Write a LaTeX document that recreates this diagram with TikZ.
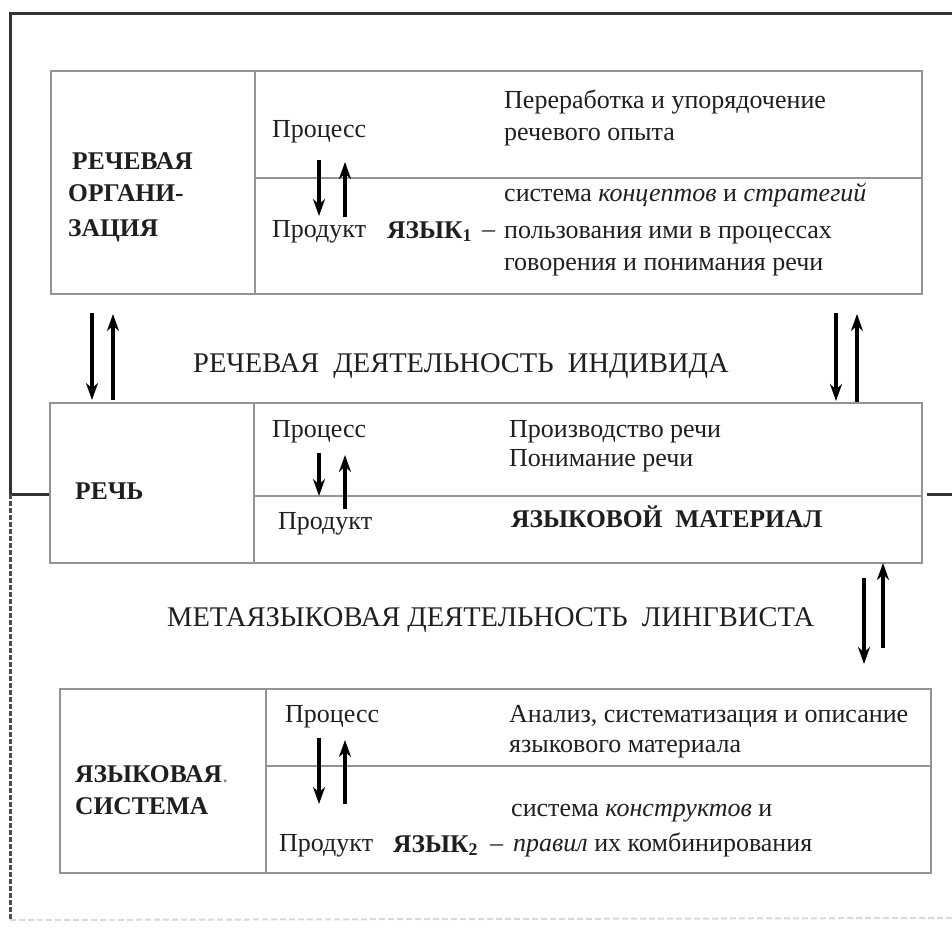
\documentclass[tikz,border=0pt]{standalone}
\usepackage{fontspec}
\setmainfont{Liberation Serif}
\usetikzlibrary{arrows.meta}
\begin{document}
\begin{tikzpicture}[x=1pt,y=-1pt,
  txt/.style={anchor=base west, inner sep=0pt, font=\fontsize{26}{30}\selectfont, text=black!88},
  btxt/.style={txt, font=\fontsize{25.5}{30}\selectfont\bfseries},
  lbl/.style={txt, font=\fontsize{28.5}{32}\selectfont},
  boxln/.style={draw=black!42, line width=2pt},
  panel/.style={boxln, rectangle, anchor=north west, inner sep=0pt},
  frameln/.style={draw=black!80, line width=3pt},
  arr/.style={draw=black, line width=3.4pt, -{Stealth[length=17pt,width=12pt]}}
]
\useasboundingbox[fill=white] (0,0) rectangle (952,928);

% ---- boxes
\node[panel, minimum width=871pt, minimum height=223pt] (b1) at (50,70) {};
\node[panel, minimum width=872pt, minimum height=160pt] (b2) at (49,402) {};
\node[panel, minimum width=871pt, minimum height=184pt] (b3) at (59,688) {};
\draw[boxln] (255,70) -- (255,293);
\draw[boxln] (255,178) -- (921,178);
\draw[boxln] (254,402) -- (254,562);
\draw[boxln] (254,496) -- (921,496);
\draw[boxln] (266,688) -- (266,872);
\draw[boxln] (266,766) -- (930,766);

% ---- outer frame
\coordinate (ftl) at (10,14);
\coordinate (ftr) at (952,14);
\coordinate (fml) at (10,494);
\coordinate (fmr) at (952,494);
\coordinate (fbl) at (10,920);
\coordinate (fbr) at (952,918);
\draw[frameln] (ftr) -- (ftl) -- (fml) -- (b2.west |- fml);
\draw[frameln] (b2.east |- fmr) ++(4,0) -- (fmr);
\draw[draw=black!70, line width=3pt, dash pattern=on 5pt off 2pt] (fml) -- (fbl);
\draw[draw=black!15, line width=2pt, dash pattern=on 6pt off 3pt] (fbl) -- (fbr);

% ---- box 1
\node[btxt] (t1a) at (72,170) {РЕЧЕВАЯ};
\node[btxt] (t1b) at (68,201) {ОРГАНИ-};
\node[btxt] (t1c) at (68,236) {ЗАЦИЯ};
\node[txt] (p1) at (272,138) {Процесс};
\node[txt] (r1) at (272,237) {Продукт};
\node[btxt] (y1) at (387,238) {ЯЗЫК\textsubscript{1}};
\node[txt] (d1) at (482,237) {–};
\node[txt] (s1a) at (504,109) {Переработка и упорядочение};
\node[txt] (s1b) at (504,141) {речевого опыта};
\node[txt] (s1c) at (504,201) {система \textit{концептов} и \textit{стратегий}};
\node[txt] (s1d) at (504,238) {пользования ими в процессах};
\node[txt] (s1e) at (504,270) {говорения и понимания речи};

% ---- label 1
\node[lbl] (L1) at (193,372) {РЕЧЕВАЯ\ \ ДЕЯТЕЛЬНОСТЬ\ \ ИНДИВИДА};

% ---- box 2
\node[btxt] (t2) at (75,499) {РЕЧЬ};
\node[txt] (p2) at (272,437) {Процесс};
\node[txt] (r2) at (278,529) {Продукт};
\node[txt] (s2a) at (509,437) {Производство речи};
\node[txt] (s2b) at (509,466) {Понимание речи};
\node[btxt] (s2c) at (511,527) {ЯЗЫКОВОЙ\ \ МАТЕРИАЛ};

% ---- label 2
\node[lbl] (L2) at (167,626) {МЕТАЯЗЫКОВАЯ ДЕЯТЕЛЬНОСТЬ\ \ ЛИНГВИСТА};

% ---- box 3
\node[btxt] (t3a) at (75,782) {ЯЗЫКОВАЯ\textmd{\color{black!45}.}};
\node[btxt] (t3b) at (75,814) {СИСТЕМА};
\node[txt] (p3) at (285,722) {Процесс};
\node[txt] (r3) at (279,851) {Продукт};
\node[btxt] (y3) at (393,852) {ЯЗЫК\textsubscript{2}};
\node[txt] (d3) at (490,851) {–};
\node[txt] (s3a) at (509,722) {Анализ, систематизация и описание};
\node[txt] (s3b) at (509,752) {языкового материала};
\node[txt] (s3c) at (511,816) {система \textit{конструктов} и};
\node[txt] (s3d) at (513,851) {\textit{правил} их комбинирования};

% ---- arrow end points
\coordinate (a1s) at (319,160); \coordinate (a1e) at (319,216);
\coordinate (a2s) at (345,217); \coordinate (a2e) at (345,162);
\coordinate (a3s) at (92,313);  \coordinate (a3e) at (92,400);
\coordinate (a4s) at (113,400); \coordinate (a4e) at (113,314);
\coordinate (a5s) at (836,313); \coordinate (a5e) at (836,401);
\coordinate (a6s) at (857,402); \coordinate (a6e) at (857,314);
\coordinate (a7s) at (319,453); \coordinate (a7e) at (319,496);
\coordinate (a8s) at (345,509); \coordinate (a8e) at (345,455);
\coordinate (a9s) at (864,578); \coordinate (a9e) at (864,664);
\coordinate (a10s) at (883,648); \coordinate (a10e) at (883,563);
\coordinate (a11s) at (319,738); \coordinate (a11e) at (319,804);
\coordinate (a12s) at (345,804); \coordinate (a12e) at (345,740);

\foreach \i in {1,...,12} { \draw[arr] (a\i s) -- (a\i e); }
\end{tikzpicture}
\end{document}
